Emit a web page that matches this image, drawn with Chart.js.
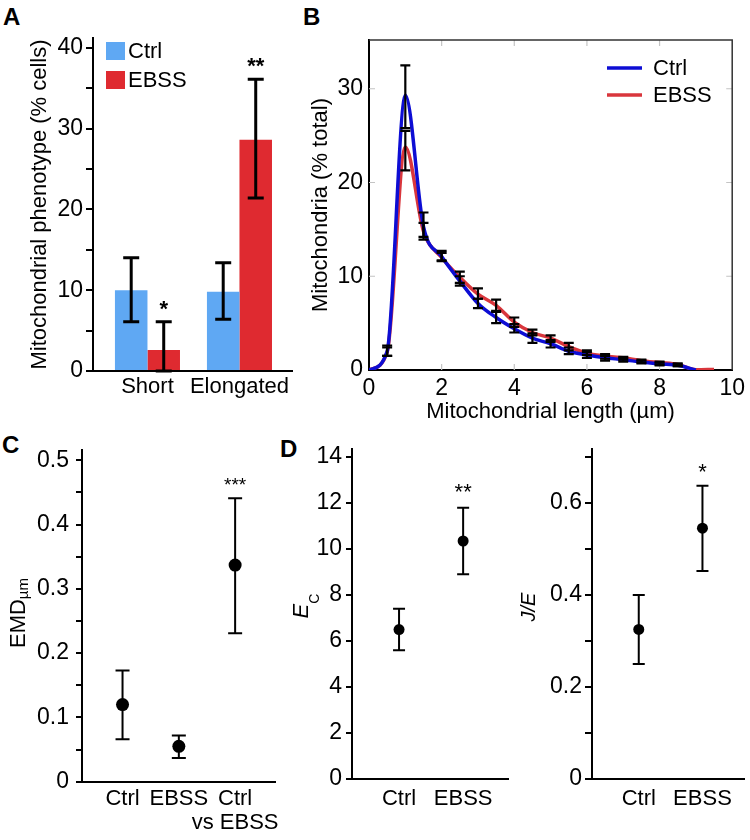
<!DOCTYPE html>
<html>
<head>
<meta charset="utf-8">
<script src="https://cdn.jsdelivr.net/npm/chart.js@4/dist/chart.umd.min.js"></script>
<style>
  body { margin: 0; background: #fff; width: 750px; height: 840px; position: relative; overflow: hidden;
         font-family: "Liberation Sans", Arial, sans-serif; }
  canvas { position: absolute; }
  .tag { position: absolute; font-weight: bold; font-size: 24px; line-height: 24px; }
</style>
</head>
<body>
<div class="tag" style="left:3px;top:5px">A</div>
<div class="tag" style="left:303px;top:5px">B</div>
<div class="tag" style="left:2px;top:433px">C</div>
<div class="tag" style="left:280px;top:437px">D</div>

<canvas id="chartA" width="300" height="400" style="left:0;top:0"></canvas>
<canvas id="chartB" width="450" height="430" style="left:300px;top:0"></canvas>
<canvas id="chartC" width="285" height="420" style="left:0;top:420px"></canvas>
<canvas id="chartD1" width="230" height="420" style="left:285px;top:420px"></canvas>
<canvas id="chartD2" width="235" height="420" style="left:515px;top:420px"></canvas>

<script>
// ---- data ----
// A: phenotype (% cells)
const groupsA = ['Short', 'Elongated'];
const ctrlA = [10.0, 9.8];
const ctrlALo = [6.1, 6.4];
const ctrlAHi = [14.0, 13.4];
const ebssA = [2.6, 28.6];
const ebssALo = [0, 21.4];
const ebssAHi = [6.1, 36.1];
const starsA = ['*', '**'];

// B: length distribution (% total)
const lenB = [0, 0.5, 1, 1.5, 2, 2.5, 3, 3.5, 4, 4.5, 5, 5.5, 6, 6.5, 7, 7.5, 8, 8.5, 9, 9.5];
const ctrlB = [0, 2.0, 29.3, 15.3, 12.1, 9.5, 7.1, 5.6, 4.4, 3.4, 2.8, 2.0, 1.6, 1.3, 1.1, 0.85, 0.65, 0.5, 0, null];
const ctrlBLo = [null, 1.5, 25.8, 14.2, 11.7, 9.0, 6.6, 5.0, 4.0, 2.9, 2.4, 1.7, 1.3, 1.0, 0.9, 0.7, 0.5, 0.4, null, null];
const ctrlBHi = [null, 2.6, 32.5, 16.8, 12.5, 10.0, 7.6, 6.2, 4.9, 3.9, 3.2, 2.4, 1.9, 1.5, 1.3, 1.0, 0.8, 0.6, null, null];
const ebssB = [0, 1.9, 23.8, 14.8, 12.0, 9.9, 8.1, 6.9, 5.1, 4.0, 3.4, 2.5, 1.8, 1.5, 1.3, 1.0, 0.8, 0.6, 0.03, 0.06];
const ebssBLo = [null, 1.5, 21.3, 13.9, 11.6, 9.3, 7.6, 6.3, 4.6, 3.7, 3.0, 2.1, 1.6, 1.2, 1.1, 0.8, 0.6, 0.4, null, null];
const ebssBHi = [null, 2.4, 25.5, 15.7, 12.7, 10.5, 8.7, 7.5, 5.6, 4.3, 3.7, 2.9, 2.1, 1.7, 1.4, 1.1, 0.9, 0.7, null, null];

// C: EMD
const catsC = ['Ctrl', 'EBSS', ['Ctrl', 'vs EBSS']];
const emdC = [0.12, 0.055, 0.337];
const emdCLo = [0.066, 0.037, 0.231];
const emdCHi = [0.173, 0.072, 0.441];
const starsC = ['', '', '***'];

// D: Ec and J/E
const catsD = ['Ctrl', 'EBSS'];
const ecD = [6.5, 10.35];
const ecDLo = [5.6, 8.9];
const ecDHi = [7.4, 11.8];
const starsEc = ['', '**'];
const jeD = [0.325, 0.545];
const jeDLo = [0.25, 0.452];
const jeDHi = [0.40, 0.637];
const starsJe = ['', '*'];

// ---- setup ----
const FONT = '"Liberation Sans", Arial, sans-serif';
Chart.defaults.font.family = FONT;
Chart.defaults.font.size = 22;
Chart.defaults.color = '#000';
Chart.defaults.animation = false;

const pts = (vals) => vals.map((v, i) => ({ x: i + 1, y: v }));
const keepSteps = (step) => (s) => {
  s.ticks = s.ticks.filter(t => Math.abs(t.value / step - Math.round(t.value / step)) < 1e-6);
};
const keepCats = (n) => (s) => {
  s.ticks = s.ticks.filter(t => Number.isInteger(t.value) && t.value >= 1 && t.value <= n);
};

// error bars + significance stars
const errorBars = {
  id: 'errorBars',
  afterDatasetsDraw(chart, args, o) {
    const ctx = chart.ctx;
    chart.data.datasets.forEach((ds, i) => {
      if (!ds.errLow) return;
      const meta = chart.getDatasetMeta(i);
      const ys = chart.scales[meta.yAxisID];
      ctx.save();
      ctx.strokeStyle = '#000';
      ctx.fillStyle = '#000';
      ctx.lineWidth = o.width;
      meta.data.forEach((el, j) => {
        const lo = ds.errLow[j], hi = ds.errHigh[j];
        if (lo == null) return;
        const x = el.x, y1 = ys.getPixelForValue(lo), y2 = ys.getPixelForValue(hi);
        ctx.beginPath();
        ctx.moveTo(x, y1); ctx.lineTo(x, y2);
        ctx.moveTo(x - o.cap, y1); ctx.lineTo(x + o.cap, y1);
        ctx.moveTo(x - o.cap, y2); ctx.lineTo(x + o.cap, y2);
        ctx.stroke();
        if (ds.stars && ds.stars[j]) {
          ctx.font = o.starFont;
          ctx.textAlign = 'center';
          ctx.textBaseline = 'alphabetic';
          ctx.fillText(ds.stars[j], x, y2 - o.starGap + o.starSize * 0.45);
        }
      });
      ctx.restore();
    });
  }
};

// small legend inside plot
const panelLegend = {
  id: 'panelLegend',
  afterDraw(chart, args, o) {
    const { ctx, chartArea } = chart;
    ctx.save();
    ctx.font = '22px ' + FONT;
    ctx.textBaseline = 'middle';
    chart.data.datasets.forEach((ds, i) => {
      const x = chartArea.left + o.x, y = chartArea.top + o.y + i * o.rowH;
      if (o.kind === 'box') {
        ctx.fillStyle = ds.backgroundColor;
        ctx.fillRect(x, y - o.boxH / 2, o.boxW, o.boxH);
      } else {
        ctx.strokeStyle = ds.borderColor;
        ctx.lineWidth = ds.borderWidth;
        ctx.beginPath(); ctx.moveTo(x, y); ctx.lineTo(x + o.boxW, y); ctx.stroke();
      }
      ctx.fillStyle = '#000';
      ctx.fillText(ds.label, x + o.boxW + o.gap, y + 1);
    });
    ctx.restore();
  }
};

// frame and inward ticks for B
const innerTicks = {
  id: 'innerTicks',
  beforeDatasetsDraw(chart) {
    const { ctx, chartArea: a, scales: { x, y } } = chart;
    ctx.save();
    ctx.strokeStyle = '#c4c4c4';
    ctx.lineWidth = 1.2;
    ctx.beginPath();
    x.ticks.forEach(t => {
      if (t.value <= x.min || t.value >= x.max) return;
      const p = x.getPixelForValue(t.value);
      ctx.moveTo(p, a.top); ctx.lineTo(p, a.top + 6);
      ctx.moveTo(p, a.bottom); ctx.lineTo(p, a.bottom - 6);
    });
    y.ticks.forEach(t => {
      if (t.value <= y.min || t.value >= y.max) return;
      const p = y.getPixelForValue(t.value);
      ctx.moveTo(a.left, p); ctx.lineTo(a.left + 6, p);
      ctx.moveTo(a.right, p); ctx.lineTo(a.right - 6, p);
    });
    ctx.stroke();
    ctx.strokeStyle = '#333';
    ctx.lineWidth = 1.5;
    ctx.beginPath();
    ctx.moveTo(a.left, a.top); ctx.lineTo(a.right, a.top); ctx.lineTo(a.right, a.bottom);
    ctx.stroke();
    ctx.restore();
  }
};

// rotated y title with mixed fonts (subscripts, italics)
const sideTitle = {
  id: 'sideTitle',
  afterDraw(chart, args, o) {
    const ctx = chart.ctx;
    ctx.save();
    ctx.translate(o.x, o.y);
    ctx.rotate(-Math.PI / 2);
    ctx.fillStyle = '#000';
    ctx.textBaseline = 'alphabetic';
    let w = 0;
    o.parts.forEach(p => { ctx.font = p.font; w += ctx.measureText(p.text).width; });
    let cx = -w / 2;
    o.parts.forEach(p => {
      ctx.font = p.font;
      ctx.fillText(p.text, cx, p.dy || 0);
      cx += ctx.measureText(p.text).width;
    });
    ctx.restore();
  }
};

const axisY = (o) => ({
  min: 0, max: o.max,
  afterFit: (s) => { s.width = o.width; },
  afterBuildTicks: keepSteps(o.step),
  ticks: { stepSize: o.step, includeBounds: false, padding: o.pad, callback: o.label, font: { size: 23 } },
  grid: { drawOnChartArea: false, tickLength: o.tick, color: '#000', lineWidth: 2 },
  border: { color: '#000', width: 2 }
});

const axisCat = (o) => ({
  type: 'linear', min: o.min, max: o.max, offset: false,
  afterFit: (s) => { s.height = o.height; },
  afterBuildTicks: keepCats(o.cats.length),
  ticks: { stepSize: 1, includeBounds: false, padding: o.pad, autoSkip: false, maxRotation: 0,
           font: { size: 22, lineHeight: 1.1 }, callback: (v) => o.cats[v - 1] },
  grid: { display: false, drawTicks: false },
  border: { color: '#000', width: 2 }
});

// ---- A ----
new Chart(document.getElementById('chartA'), {
  type: 'bar',
  data: {
    datasets: [
      { label: 'Ctrl', data: pts(ctrlA), backgroundColor: '#5fa8f3',
        errLow: ctrlALo, errHigh: ctrlAHi },
      { label: 'EBSS', data: pts(ebssA), backgroundColor: '#df2a30',
        errLow: ebssALo, errHigh: ebssAHi, stars: starsA }
    ]
  },
  options: {
    responsive: false,
    layout: { padding: { top: 38, right: 8, left: 0, bottom: 0 } },
    categoryPercentage: 0.707,
    barPercentage: 1.0,
    scales: {
      x: axisCat({ min: 0.408, max: 2.571, height: 29, pad: 4, cats: groupsA }),
      y: Object.assign(axisY({ max: 41.2, width: 93, step: 5, pad: 3, tick: 7,
        label: (v) => (v % 10 === 0 ? v : '') }),
        { title: { display: true, text: 'Mitochondrial phenotype (% cells)',
                   font: { size: 22 }, padding: { top: 27, bottom: 0 } } })
    },
    plugins: {
      legend: { display: false }, tooltip: { enabled: false },
      errorBars: { width: 3, cap: 8, starFont: 'bold 22px ' + FONT, starSize: 22, starGap: 16 },
      panelLegend: { kind: 'box', x: 13, y: 13, rowH: 29, boxW: 19, boxH: 18, gap: 3 }
    }
  },
  plugins: [errorBars, panelLegend]
});

// ---- B ----
const lineData = (vals) => lenB.map((x, i) => ({ x: x, y: vals[i] }));
new Chart(document.getElementById('chartB'), {
  type: 'line',
  data: {
    datasets: [
      { label: 'Ctrl', data: lineData(ctrlB), borderColor: '#0d0dd4', borderWidth: 3.5,
        pointRadius: 0, cubicInterpolationMode: 'monotone', errLow: ctrlBLo, errHigh: ctrlBHi },
      { label: 'EBSS', data: lineData(ebssB), borderColor: '#d9363c', borderWidth: 3.5,
        pointRadius: 0, cubicInterpolationMode: 'monotone', errLow: ebssBLo, errHigh: ebssBHi }
    ]
  },
  options: {
    responsive: false,
    layout: { padding: { top: 40, right: 15, left: 0, bottom: 0 } },
    scales: {
      x: {
        type: 'linear', min: 0, max: 10,
        afterFit: (s) => { s.height = 60; },
        ticks: { stepSize: 2, padding: 5, font: { size: 23 } },
        grid: { display: false, drawTicks: false },
        border: { color: '#000', width: 2 },
        title: { display: true, text: 'Mitochondrial length (µm)', font: { size: 22 },
                 padding: { top: 0, bottom: 5 } }
      },
      y: {
        min: 0, max: 35.2,
        afterFit: (s) => { s.width = 69; },
        afterBuildTicks: keepSteps(10),
        ticks: { stepSize: 10, includeBounds: false, padding: 6, font: { size: 23 } },
        grid: { display: false, drawTicks: false },
        border: { color: '#000', width: 2 },
        title: { display: true, text: 'Mitochondria (% total)', font: { size: 22 },
                 padding: { top: 8, bottom: 0 } }
      }
    },
    plugins: {
      legend: { display: false }, tooltip: { enabled: false },
      errorBars: { width: 2.2, cap: 5, starFont: '22px ' + FONT, starSize: 22, starGap: 14 },
      panelLegend: { kind: 'line', x: 238, y: 28, rowH: 27, boxW: 35, gap: 11 }
    }
  },
  plugins: [innerTicks, errorBars, panelLegend]
});

// ---- C ----
new Chart(document.getElementById('chartC'), {
  type: 'scatter',
  data: {
    datasets: [{ label: 'EMD', data: pts(emdC), backgroundColor: '#000', borderWidth: 0,
                 pointRadius: 6.5, errLow: emdCLo, errHigh: emdCHi, stars: starsC }]
  },
  options: {
    responsive: false,
    layout: { padding: { top: 30, right: 7, left: 0, bottom: 0 } },
    scales: {
      x: axisCat({ min: 0.28, max: 3.72, height: 58.3, pad: 5, cats: catsC }),
      y: axisY({ max: 0.516, width: 82, step: 0.05, pad: 7, tick: 6,
        label: (v) => {
          const k = Math.round(v * 100);
          return k % 10 === 0 ? (k === 0 ? '0' : (k / 100).toFixed(1)) : '';
        } })
    },
    plugins: {
      legend: { display: false }, tooltip: { enabled: false },
      errorBars: { width: 2, cap: 7, starFont: '19px ' + FONT, starSize: 19, starGap: 16 },
      sideTitle: { x: 25, y: 193, parts: [
        { text: 'EMD', font: '22px ' + FONT },
        { text: 'µm', font: '15px ' + FONT, dy: 3 }
      ] }
    }
  },
  plugins: [errorBars, sideTitle]
});

// ---- D (Ec) ----
new Chart(document.getElementById('chartD1'), {
  type: 'scatter',
  data: {
    datasets: [{ label: 'Ec', data: pts(ecD), backgroundColor: '#000', borderWidth: 0,
                 pointRadius: 5.5, errLow: ecDLo, errHigh: ecDHi, stars: starsEc }]
  },
  options: {
    responsive: false,
    layout: { padding: { top: 29, right: 7, left: 0, bottom: 0 } },
    scales: {
      x: axisCat({ min: 0.266, max: 2.70, height: 61, pad: 8, cats: catsD }),
      y: axisY({ max: 14.35, width: 67, step: 2, pad: 4, tick: 6, label: (v) => v })
    },
    plugins: {
      legend: { display: false }, tooltip: { enabled: false },
      errorBars: { width: 2, cap: 6, starFont: '22px ' + FONT, starSize: 22, starGap: 19 },
      sideTitle: { x: 23, y: 186, parts: [
        { text: 'E', font: 'italic 22px ' + FONT },
        { text: 'C', font: '14px ' + FONT, dy: 11 }
      ] }
    }
  },
  plugins: [errorBars, sideTitle]
});

// ---- D (J/E) ----
new Chart(document.getElementById('chartD2'), {
  type: 'scatter',
  data: {
    datasets: [{ label: 'J/E', data: pts(jeD), backgroundColor: '#000', borderWidth: 0,
                 pointRadius: 5.5, errLow: jeDLo, errHigh: jeDHi, stars: starsJe }]
  },
  options: {
    responsive: false,
    layout: { padding: { top: 29, right: 5, left: 0, bottom: 0 } },
    scales: {
      x: axisCat({ min: 0.266, max: 2.66, height: 61, pad: 8, cats: catsD }),
      y: axisY({ max: 0.717, width: 77, step: 0.1, pad: 3, tick: 7,
        label: (v) => {
          const k = Math.round(v * 10);
          return k % 2 === 0 ? (k === 0 ? '0' : (k / 10).toFixed(1)) : '';
        } })
    },
    plugins: {
      legend: { display: false }, tooltip: { enabled: false },
      errorBars: { width: 2, cap: 6, starFont: '22px ' + FONT, starSize: 22, starGap: 17 },
      sideTitle: { x: 20, y: 187, parts: [{ text: 'J/E', font: 'italic 20px ' + FONT }] }
    }
  },
  plugins: [errorBars, sideTitle]
});
</script>
</body>
</html>
